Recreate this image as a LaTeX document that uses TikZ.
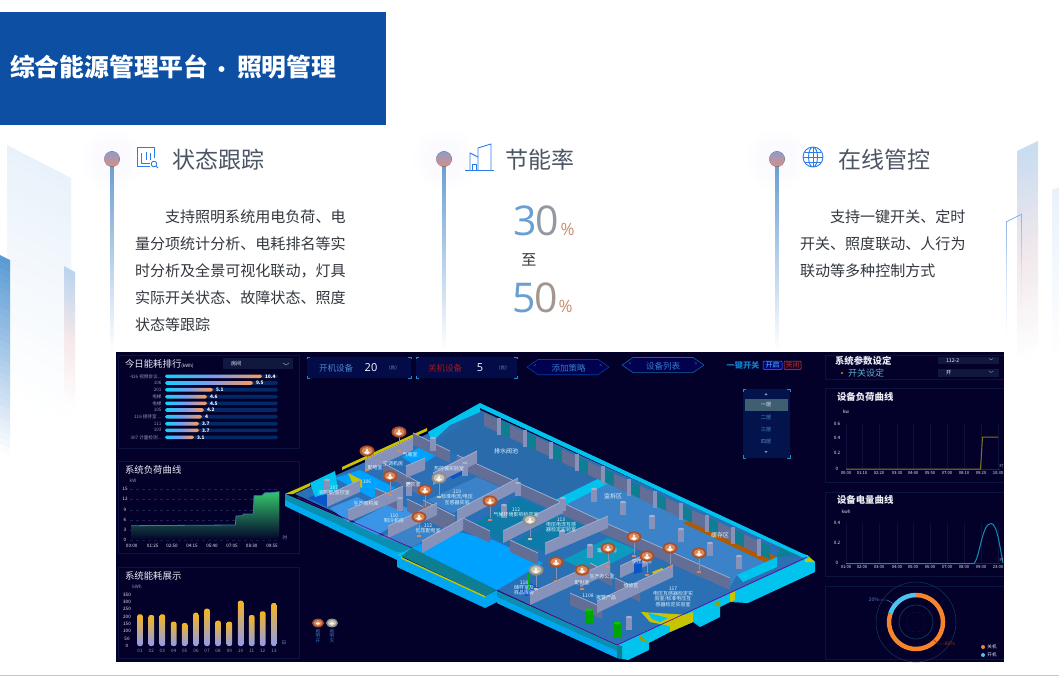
\documentclass[tikz,border=0pt]{standalone}
\usepackage{fontspec}
\setmainfont{Noto Sans CJK SC}
\newfontfamily\numfont{Open Sans}
\newcommand{\fs}[1]{\fontsize{#1}{#1}\selectfont}
\newcommand{\dotdot}{...}
\newcommand{\tower}[7]{%
  \definecolor{ctop}{HTML}{#6}
  \definecolor{cmid}{HTML}{#7}
  \pgfmathsetmacro{\stp}{(#5-#2)/30}
  \foreach \k in {0,...,29} {
    \pgfmathtruncatemacro{\pa}{\k<15 ? 100-\k*100/15 : 100-(\k-15)*100/15}
    \ifnum\k<15 \colorlet{slice}{ctop!\pa!cmid}\else \colorlet{slice}{cmid!\pa!white}\fi
    \fill[slice] (#1,#2+\k*\stp) -- (#3,#4+\k*\stp) -- (#3,#4+\k*\stp+\stp+.4) -- (#1,#2+\k*\stp+\stp+.4) -- cycle;
  }
}
\definecolor{panelbg}{HTML}{03012A}
\definecolor{panelline}{HTML}{0B1440}
\definecolor{gridline}{HTML}{1C2550}
\definecolor{brandblue}{HTML}{0C4FA3}
\definecolor{iconblue}{HTML}{2B7DE9}
\definecolor{headgray}{HTML}{4B5563}
\definecolor{bodygray}{HTML}{33383F}
\definecolor{numblue}{HTML}{6A9FD2}
\definecolor{numbrown}{HTML}{A3958F}
\definecolor{numorange}{HTML}{C98F70}
\definecolor{tick}{HTML}{1C8FC4}
\definecolor{axistxt}{HTML}{8C98B8}
\definecolor{dropfill}{HTML}{11183F}
\definecolor{slabcyan}{HTML}{00C4EE}
\definecolor{slabteal}{HTML}{0A8FB0}
\definecolor{wallface}{HTML}{8692BA}
\definecolor{walldark}{HTML}{626E96}
\definecolor{walltop}{HTML}{A5B0D0}
\definecolor{wallteal}{HTML}{0E7F92}
\definecolor{lemon}{HTML}{C8C400}
\definecolor{floorbase}{HTML}{2B70B5}
\definecolor{floordrain}{HTML}{2A6CAB}
\definecolor{floorhall}{HTML}{3B82C8}
\definecolor{floorlane}{HTML}{00A2FF}
\definecolor{floorlab}{HTML}{0D7AA8}
\definecolor{floorlit}{HTML}{3A95E6}
\definecolor{floordeep}{HTML}{0A55C8}
\definecolor{lamponA}{HTML}{A8502A}
\definecolor{lamponB}{HTML}{D8885A}
\definecolor{lampoffA}{HTML}{8F8F88}
\definecolor{lampoffB}{HTML}{C4C4BC}
\definecolor{bartop}{HTML}{F5B51E}
\definecolor{barlow}{HTML}{8F9BF0}
\definecolor{curveblue}{HTML}{0E8FB8}
\definecolor{ringdim}{HTML}{123A5A}
\definecolor{ringorange}{HTML}{F5842B}
\definecolor{ringcyan}{HTML}{4FC3EE}
\definecolor{rankcyan}{HTML}{10D0FF}
\definecolor{rankmid}{HTML}{7C9CF0}
\definecolor{rankend}{HTML}{FF9A55}
\definecolor{ballup}{HTML}{8F9CC8}
\definecolor{balldown}{HTML}{D98E85}
\tikzset{
  plan/.style={x=1pt,y=-1pt,line join=round},
  tx/.style={inner sep=0pt,outer sep=0pt},
  axlbl/.style={tx,font=\fs{4.6},text=axistxt},
  ttl/.style={tx,anchor=west,font=\fs{9.4},text=white!82!axistxt},
  roomlbl/.style={tx,font=\fs{5},text=white!88!cyan,align=center},
  head/.style={tx,anchor=west,font=\fs{23},text=headgray},
  para/.style={tx,anchor=west,font=\fs{15.05},text=bodygray},
  numlbl/.style={tx,font=\numfont\fs{41}},
  pct/.style={tx,font=\numfont\fs{17},text=numorange},
  pnl/.style={draw=panelline,line width=.5pt},
  sel/.style={tx,font=\fs{5.2},text=white!85!axistxt},
  bigttl/.style={tx,font=\fs{24.8}\bfseries,text=white}
}
\begin{document}
\begin{tikzpicture}[plan]
  \useasboundingbox (0,0) rectangle (1059,677);
  \fill[white] (0,0) rectangle (1059,677);
  \tower{7}{145}{71}{178}{395}{E9F2FB}{F5F9FD}
  \tower{0}{255}{10}{260}{450}{5B9BD5}{A9CBE9}
  \tower{64}{266}{75}{272}{405}{BCD4EE}{F6E9EA}
  \tower{1017}{151}{1038}{141}{362}{C9DCF0}{F1E8EC}
  \tower{1052}{190}{1059}{187}{362}{E9F1FA}{F5F9FD}
  \tower{1006}{222}{1007.2}{222}{340}{8FB5E8}{DCE8F8}
  \tower{1021}{214}{1022.2}{214}{340}{8FB5E8}{DCE8F8}
  \draw[iconblue!60,line width=.8pt] (1006,222) -- (1022,214);
  \draw[gray!45] (0,675.5) -- (1059,675.5);

  \fill[brandblue] (0,12) rectangle (386,125);
  \node[bigttl,anchor=west] (pagetitle) at (10,67) {综合能源管理平台};
  \node[bigttl,font=\fs{21}\bfseries] (titledot) at (222,72) {·};
  \node[bigttl,anchor=west] (pagesub) at (237,67) {照明管理};

  \foreach \x in {112,444,777} {
    \shade[inner color=blue!3,outer color=white] (\x,159) circle[radius=34pt];
    \fill[top color=numblue,bottom color=white] (\x-1.5,165) rectangle (\x+1.5,350);
    \fill[top color=ballup,bottom color=balldown] (\x,159) circle[radius=7.7pt];
  }
  \node[head] (headstate) at (172,160) {状态跟踪};
  \node[head] (headsave) at (505,160) {节能率};
  \node[head] (headctrl) at (838,160) {在线管控};

  \begin{scope}[iconblue,line width=.9pt]
    \draw (154,158) -- (154,147) -- (137,147) -- (137,166) -- (150,166);
    \draw (141,153) -- (141,163) -- (150,163) (146,152) -- (146,160) (150,153) -- (150,160);
    \draw (154,164) circle[radius=2.8pt] (156,166) -- (158,168);
    \draw (465,170.5) -- (494,170.5);
    \draw (478,170) -- (478,148) -- (491,144) -- (491,170);
    \draw (470,170) -- (470,153) -- (478,157);
    \draw (472,170) -- (472,164) -- (476,164) -- (476,170);
    \draw (813,157) circle[radius=10pt] (813,157) ellipse[x radius=4.5pt,y radius=10pt];
    \draw (803,157) -- (823,157) (805,152) -- (821,152) (805,162) -- (821,162) (813,147) -- (813,167);
  \end{scope}

  \node[para] (s1) at (165,217) {支持照明系统用电负荷、电};
  \node[para] (s2) at (135,244) {量分项统计分析、电耗排名等实};
  \node[para] (s3) at (135,271) {时分析及全景可视化联动，灯具};
  \node[para] (s4) at (135,298) {实际开关状态、故障状态、照度};
  \node[para] (s5) at (135,325) {状态等跟踪};
  \node[para] (c1) at (830,217) {支持一键开关、定时};
  \node[para] (c2) at (800,244) {开关、照度联动、人行为};
  \node[para] (c3) at (800,271) {联动等多种控制方式};

  \node[numlbl,text=numblue] (d3) at (525,221) {3};
  \node[numlbl,text=numbrown!70!numblue] (d0) at (547,221) {0};
  \node[pct] (pa) at (567.5,229) {\%};
  \node[para,anchor=center] (mid) at (529,260) {至};
  \node[numlbl,text=numblue] (d5) at (524,298) {5};
  \node[numlbl,text=numbrown] (d00) at (546,298) {0};
  \node[pct] (pb) at (565.5,306) {\%};

  \fill[panelbg] (116,352) rectangle (1004,662);

  % left panels
  \draw[pnl] (118,355) rectangle (299,448) (118,461) rectangle (299,553) (118,567) rectangle (299,658);
  \node[ttl] (tl1) at (125,364) {今日能耗排行\fs{4.5}(kWh)};
  \fill[dropfill] (223,358) rectangle (293,369);
  \node[sel,anchor=west] (droproom) at (231,364) {房间};
  \draw[axistxt,line width=.5pt] (283,363) -- (286,365) -- (289,363);
  \foreach \y/\e/\n/\v in {376.3/262/426 视频会议{\dotdot}/10.4,383/253/106/9.5,389.7/213/201/5.1,396.7/207/电梯/4.6,403.3/207/电梯/4.5,410/204/105/4.2,416.7/202/116 接待室 {\dotdot}/4,423.7/199/111/3.7,430.3/199/103/3.7,437.3/194/307 计量检测{\dotdot}/3.1} {
    \fill[blue!45!cyan!28!panelbg,rounded corners=1.7pt] (165,\y-1.8) rectangle (278,\y+1.8);
    \fill[left color=rankcyan,right color=rankend,middle color=rankmid,rounded corners=1.7pt] (165,\y-1.8) rectangle (\e,\y+1.8);
    \node[axlbl,anchor=east] (rankname\e) at (161.5,\y) {\n};
    \node[tx,anchor=west,font=\fs{4.8}\bfseries,text=white] (rankval\e) at (\e+3,\y) {\v};
  }

  \node[ttl] (tl2) at (125,470) {系统负荷曲线};
  \node[axlbl] (unitkw) at (133,481) {kW};
  \foreach \y/\n in {489.3/15,499.3/12,509.7/9,519.7/6,529.7/3,540/0} {
    \node[axlbl,text=white!80!axistxt] (loady\n) at (125,\y) {\n};
    \draw[gridline,dashed,line width=.3pt] (130,\y) -- (280,\y);
  }
  \foreach \x/\n in {131.7/00:00,152.7/01:25,172/02:50,192/04:15,212/05:40,232/07:05,251.7/08:30,272/09:55}
    \node[axlbl,text=white!80!axistxt] (loadx\x) at (\x,545.5) {\n};
  \node[axlbl] (unithour) at (285,537.5) {时};
  \fill[top color=green!45!teal!80!white,bottom color=panelbg] (131,525.7) -- (235.3,525) -- (236,516) -- (242.7,515.7) -- (243.3,514) -- (253.3,514) -- (254,495.7) -- (261.7,495.7) -- (265,492.7) -- (271,492.7) -- (279.3,491.7) -- (279.3,540) -- (131,540) -- cycle;
  \draw[cyan!45!blue!85,line width=.8pt] (131,525.7) -- (235.3,525) -- (236,516) -- (242.7,515.7) -- (243.3,514) -- (253.3,514) -- (254,495.7) -- (261.7,495.7) -- (265,492.7) -- (271,492.7) -- (279.3,491.7);

  \node[ttl] (tl3) at (125,576) {系统能耗展示};
  \node[axlbl] (unitkwh) at (137,587) {kWh};
  \foreach \y/\n in {594.7/350,602/300,609.3/250,616.7/200,624/150,631.3/100,638.7/50,646/0}
    \node[axlbl,text=white!80!axistxt] (usey\n) at (127,\y) {\n};
  \foreach \x/\t/\n in {140/614.3/01,151.3/615/02,162.3/614.3/03,173.7/621.7/04,184.7/623/05,196/612.7/06,207/608.7/07,218/620.7/08,229.3/621.7/09,240.7/600.7/10,251.7/615/11,262.7/611.3/12,274/603/13} {
    \fill[top color=bartop,bottom color=barlow,rounded corners=2pt] (\x-2.8,\t) rectangle (\x+2.8,646);
    \node[axlbl] (usex\n) at (\x,650.5) {\n};
  }
  \node[axlbl] (unitday) at (284,643) {日};

  % top bar
  \foreach \xa/\xb in {307/411,416/517} {
    \fill[blue!70!cyan!14!panelbg] (\xa,357) rectangle (\xb,378);
    \draw[tick,line width=.6pt] (\xa,359) -- (\xa,357) -- (\xa+3,357) (\xb-3,357) -- (\xb,357) -- (\xb,359) (\xa,376) -- (\xa,378) -- (\xa+3,378) (\xb-3,378) -- (\xb,378) -- (\xb,376);
  }
  \node[tx,font=\fs{8.5},text=cyan!50!blue!75] (onname) at (336,368) {开机设备};
  \node[tx,font=\numfont\fs{11},text=white] (onval) at (371,367.5) {20};
  \node[axlbl] (onunit) at (393,368) {(台)};
  \node[tx,font=\fs{8.5},text=red!60!black!90] (offname) at (445,368) {关机设备};
  \node[tx,font=\numfont\fs{11},text=white] (offval) at (480,367.5) {5};
  \node[axlbl] (offunit) at (503,368) {(台)};
  \draw[blue!55!cyan!55!panelbg,fill=blue!30!panelbg,fill opacity=.6,line width=.6pt] (527,367) -- (538,359.5) -- (598,359.5) -- (609,367) -- (598,374.7) -- (538,374.7) -- cycle;
  \draw[tick!70!panelbg,fill=blue!18!panelbg,line width=.6pt] (622,365) -- (633,357.5) -- (693,357.5) -- (704,365) -- (693,372.6) -- (633,372.6) -- cycle;
  \node[tx,font=\fs{8.5},text=cyan!50!blue!85] (addplan) at (568.5,368) {添加策略};
  \node[tx,font=\fs{8.5},text=cyan!50!blue!85] (devlist) at (663,366) {设备列表};
  \node[axlbl,text=tick] (a1) at (535,366.5) {<};
  \node[axlbl,text=tick] (a2) at (601,366.5) {>};
  \node[axlbl,text=tick] (a3) at (630,364.5) {<};
  \node[axlbl,text=tick] (a4) at (696,364.5) {>};
  \node[tx,font=\fs{8.2}\bfseries,text=cyan!65!blue] (onekey) at (743,365) {一键开关};
  \draw[blue!80!cyan!70,fill=blue!40!panelbg,line width=.5pt,rounded corners=1pt] (763,361) rectangle (782,369.5);
  \draw[red!60!black!70,fill=red!12!panelbg,line width=.5pt,rounded corners=1pt] (784,361) rectangle (801,369.5);
  \node[tx,font=\fs{7},text=cyan!70!white] (btnon) at (772.5,365) {开启};
  \node[tx,font=\fs{7},text=red!55!black!80] (btnoff) at (792.5,365) {关闭};

  % floor selector
  \fill[blue!55!cyan!16!panelbg] (743,389) rectangle (790,458);
  \draw[tick,line width=.6pt] (743,392) -- (743,389) -- (746,389) (787,389) -- (790,389) -- (790,392) (743,455) -- (743,458) -- (746,458) (787,458) -- (790,458) -- (790,455);
  \fill[blue!40!cyan!28!gray!70!black] (745,399) rectangle (788,411);
  \fill[axistxt] (766,393) -- (767.5,395) -- (764.5,395) -- cycle (766,453) -- (767.5,451) -- (764.5,451) -- cycle;
  \node[sel] (fl1) at (766,405) {一层};
  \node[sel,text=cyan!50!blue!70!white] (fl2) at (766,417.5) {二层};
  \node[sel,text=cyan!50!blue!70!white] (fl3) at (766,430) {三层};
  \node[sel,text=cyan!50!blue!70!white] (fl4) at (766,442) {四层};

  % right panels
  \draw[pnl] (1004,355) -- (825,355) -- (825,379) -- (1004,379) (1004,388) -- (825,388) -- (825,482) -- (1004,482) (1004,492) -- (825,492) -- (825,576) -- (1004,576) (1004,586) -- (825,586) -- (825,659) -- (1004,659);
  \node[ttl,font=\fs{9.4}\bfseries] (tr1) at (835,361) {系统参数设定};
  \fill[orange] (842,373) circle[radius=1.1pt];
  \node[ttl,font=\fs{9},text=cyan!45!teal!75!white] (tr1b) at (848,373) {开关设定};
  \foreach \y/\n in {360.5/112-2,373/开} {
    \fill[dropfill] (938,\y-3.8) rectangle (999,\y+3.8);
    \node[sel,anchor=west] (setval\y) at (946,\y) {\n};
    \draw[axistxt,line width=.4pt] (989,\y-2) -- (991,\y-.5) -- (993,\y-2);
  }
  \node[ttl,font=\fs{9.4}\bfseries] (tr2) at (837,397) {设备负荷曲线};
  \node[axlbl,text=white!80!axistxt] (unitload) at (846,412) {kw};
  \node[ttl,font=\fs{9.4}\bfseries] (tr3) at (837,500) {设备电量曲线};
  \node[axlbl,text=white!80!axistxt] (unitenergy) at (846,512) {kwh};
  \foreach \y/\n in {424/0.6,438/0.4,453/0.2,469/0}
    \node[axlbl,text=white!80!axistxt] (ly\y) at (837,\y) {\n};
  \foreach \y/\n in {523/0.4,543/0.2,563/0}
    \node[axlbl,text=white!80!axistxt] (ey\y) at (837,\y) {\n};
  \foreach \x/\n/\m in {846/00:00/01:00,862/01:10/02:00,879/02:20/03:00,897/03:30/04:00,913/04:40/05:00,930/05:50/06:00,947/07:00/07:00,964/08:10/08:00,981/09:20/09:00,998/10:30/23:00} {
    \node[axlbl,text=white!80!axistxt,font=\fs{4.2}] (lx\x) at (\x,473) {\n};
    \node[axlbl,text=white!80!axistxt,font=\fs{4.2}] (ex\x) at (\x,567) {\m};
    \draw[gridline!45!panelbg,line width=.3pt] (\x,424) -- (\x,469) (\x,523) -- (\x,563);
  }
  \draw[gridline,line width=.4pt] (846,469) -- (1000,469) (846,563) -- (1000,563);
  \draw[olive!85!black,line width=1pt] (846,469) -- (980.5,469) -- (982.5,437) -- (998,437);
  \draw[curveblue,line width=1pt] (846,563.5) -- (974,563.5) .. controls (980,557) and (982,523) .. (991,523.5) .. controls (997,523) and (1000,548) .. (1003,563);
  \node[axlbl,font=\fs{4}] (hour1) at (1001.5,466) {时};
  \node[axlbl,font=\fs{4}] (hour2) at (1001.5,560) {时};

  \draw[ringdim,line width=.5pt] (916,622) circle[radius=40pt];
  \draw[ringdim,line width=.7pt] (916,622) circle[radius=17pt];
  \draw[ringdim,line width=.4pt,dotted] (916,622) circle[radius=10pt];
  \draw[ringorange,line width=4.5pt] (916,595) arc[start angle=90,delta angle=-288,radius=27pt];
  \draw[ringcyan,line width=4.5pt] (916,595) arc[start angle=90,delta angle=72,radius=27pt];
  \node[tx,font=\fs{5},text=cyan!40!blue!70] (p20) at (874,600) {20\%};
  \node[tx,font=\fs{5},text=red!50!orange!70!black] (p80) at (950,644) {80\%};
  \draw[cyan!40!blue!60,line width=.4pt] (p20.east) -- ++(8,0) -- (894,604);
  \draw[red!50!orange!70!black,line width=.4pt] (p80.west) -- ++(-7,0) -- (934,640);
  \fill[ringorange] (983,647) circle[radius=2pt];
  \fill[ringcyan] (983,655) circle[radius=2pt];
  \node[axlbl,text=white!80!axistxt] (legoff) at (992,647) {关机};
  \node[axlbl,text=white!80!axistxt] (legon) at (992,655) {开机};

  % slab
  \fill[slabcyan!88!blue] (285,494) -- (285,506) -- (397,560) -- (412,553) -- (412,548) -- cycle;
  \fill[slabteal] (285,494) -- (285,500) -- (397,552) -- (412,553) -- (412,548) -- cycle;
  \fill[slabcyan!85!blue] (397,555) -- (397,567) -- (485,608) -- (497,602) -- (497,590) -- (485,596) -- cycle;
  \fill[slabcyan] (397,555) -- (412,548) -- (412,552) -- (401,557) -- cycle;
  \fill[wallteal] (412,548) -- (497,590) -- (485,596) -- (401,556) -- cycle;
  \fill[slabteal] (497,591) -- (497,603) -- (617,658) -- (617,645) -- cycle;
  \fill[slabcyan!85!blue] (497,597) -- (497,603) -- (617,658) -- (617,651) -- cycle;
  \fill[slabcyan] (617,645) -- (617,658) -- (628,660) -- (649,650) -- (649,643) -- (670,632) -- (693,622) -- (700,627) -- (720,617) -- (720,607) -- (730,602) -- (748,603) -- (815,572) -- (815,562) -- (807,555) -- cycle;
  \fill[lemon] (670,632) -- (693,622) -- (693,612) -- (670,620) -- cycle (730,602) -- (735,600) -- (735,590) -- (730,592) -- cycle (805,562) -- (815,562) -- (807,555) -- (805,555) -- cycle;
  \fill[lemon!80!black] (640,640) -- (649,643) -- (640,635) -- cycle (714,604) -- (720,607) -- (720,600) -- cycle;
  \fill[wallteal] (617,658) -- (622,659) -- (622,646) -- (617,645) -- cycle;

  % floors
  \fill[floorbase] (295,494) -- (480,410) -- (807,558) -- (617,645) -- (497,590) -- (412,548) -- cycle;
  \fill[floorlane] (412,548) -- (450,530) -- (493,540) -- (543,563) -- (497,590) -- cycle;
  \fill[floordrain] (482,411) -- (610,473) -- (555,500) -- (457,455) -- (433,443) -- cycle;
  \fill[floorhall] (563,505) -- (611,482) -- (777,557) -- (737,575) -- (730,587) -- cycle;
  \fill[slabcyan] (555,500) -- (610,473) -- (611,482) -- (565,505) -- cycle;
  \fill[orange!70!black] (683,523) -- (695,519) -- (777,557) -- (765,562) -- cycle;
  \fill[wallteal] (777,557) -- (780,547) -- (807,555) -- cycle;
  \fill[slabcyan] (737,575) -- (777,557) -- (777,567) -- (743,582) -- cycle;
  \fill[floorlab] (472,525) -- (518,497) -- (562,517) -- (503,543) -- cycle;
  \fill[floorlab] (513,543) -- (563,517) -- (593,528) -- (547,552) -- cycle;
  \fill[floorlab!75!cyan] (563,560) -- (608,538) -- (637,550) -- (593,573) -- cycle;
  \fill[floorhall] (427,500) -- (477,477) -- (502,488) -- (453,513) -- cycle;
  \fill[floordeep] (308,498) -- (333,487) -- (352,495) -- (327,507) -- cycle;
  \fill[floorlit] (330,508) -- (357,497) -- (377,507) -- (348,522) -- cycle;
  \fill[floorlit] (352,523) -- (393,502) -- (417,512) -- (377,535) -- cycle;
  \fill[floorhall] (380,537) -- (413,523) -- (437,532) -- (413,547) -- cycle;
  \fill[floorlane] (402,457) -- (420,447) -- (437,455) -- (418,467) -- cycle;
  \fill[floordeep] (443,474) -- (457,467) -- (468,472) -- (453,479) -- cycle;
  \fill[floordeep] (515,590) -- (530,583) -- (540,588) -- (527,596) -- cycle;
  \fill[floorlane] (335,478) -- (360,470) -- (395,488) -- (372,498) -- cycle;
  \fill[slabcyan] (428,432) -- (480,403) -- (480,412) -- (450,425) -- (432,442) -- cycle;
  \fill[slabcyan] (310,483) -- (335,471) -- (338,490) -- (315,497) -- cycle;

  % yellow edges
  \fill[lemon] (342,467) -- (427,428) -- (427,431) -- (342,470) -- cycle;
  \fill[lemon] (285,494) -- (310,483) -- (310,486) -- (293,494) -- cycle;
  \fill[lemon] (348,473) -- (362,480) -- (362,488) -- (352,482) -- cycle;
  \fill[lemon] (422,442) -- (438,449) -- (438,455) -- (422,448) -- cycle;
  \fill[lemon] (401,557) -- (485,596) -- (485,597.5) -- (401,558.5) -- cycle;
  \fill[lemon] (568,579) -- (578,574) -- (582,578) -- (573,582) -- cycle (652,572) -- (662,568) -- (668,573) -- (656,577) -- cycle (632,588) -- (640,585) -- (641,590) -- (634,592) -- cycle;
  \fill[lemon] (641,612) -- (690,615) -- (670,626) -- (650,622) -- cycle;
  \fill[slabcyan] (648,613) -- (668,618) -- (660,622) -- (652,619) -- cycle;

  % back wall
  \fill[slabcyan] (480,403) -- (810,557) -- (806,559) -- (480,408) -- cycle;
  \foreach \x in {484,510,536,562,588,614,640,666,692,718,744} {
    \fill[walldark] (\x,413+\x*.4667-226) -- (\x+15,413+\x*.4667-219) -- (\x+15,413+\x*.4667-206) -- (\x,413+\x*.4667-213) -- cycle;
    \fill[wallteal] (\x+15,413+\x*.4667-219) -- (\x+26,413+\x*.4667-214) -- (\x+26,413+\x*.4667-201) -- (\x+15,413+\x*.4667-206) -- cycle;
    \fill[wallface] (\x+13,413+\x*.4667-221) rectangle (\x+17,413+\x*.4667-204);
  }

  % walls
  \foreach \xa/\ya/\xb/\yb in {413/445/450/463,383/475/420/495,457/467/563/515,375/500/403/512,407/511/447/530,423/512/455/528,463/530/490/543,510/552/538/565,563/515/608/536,608/536/660/559,660/559/730/590,570/605/602/619,615/590/640/602,590/575/612/586} {
    \fill[walldark] (\xa,\ya) -- (\xb,\yb) -- (\xb,\yb-12) -- (\xa,\ya-12) -- cycle;
    \draw[walltop,line width=.7pt] (\xa,\ya-12) -- (\xb,\yb-12);
  }
  \foreach \xa/\ya/\xb/\yb in {365/472/413/450,327/507/360/492,433/485/477/463,348/522/403/498,388/538/437/515,457/522/518/490,422/553/463/530,503/543/563/513,545/555/608/528,530/605/580/582,597/613/673/577,580/587/610/573,620/578/648/565,406/478/425/470} {
    \fill[wallface] (\xa,\ya) -- (\xb,\yb) -- (\xb,\yb-12) -- (\xa,\ya-12) -- cycle;
    \draw[walltop,line width=.7pt] (\xa,\ya-12) -- (\xb,\yb-12);
  }
  \foreach \x/\y in {433/445,465/470,327/487,594/496,623/509,652/523,681/536,710/550,739/563,562/538,629/624,590/552,504/512,409/490,518/490,563/505,400/505} {
    \fill[wallface] (\x-3,\y-7) rectangle (\x+3,\y+6);
    \fill[walltop] (\x,\y-7) ellipse[x radius=3pt,y radius=1.2pt];
  }
  \draw[violet!80!blue,line width=.6pt] (297,497) -- (412,548) (497,590) -- (617,645) -- (807,557);
  \foreach \x/\y in {589/617,617/630} {
    \fill[green!65!black] (\x-3.5,\y-7) rectangle (\x+3.5,\y+7);
    \fill[green!80!black] (\x,\y-7) ellipse[x radius=3.5pt,y radius=1.5pt];
  }
  \fill[green!70!black] (527,574) rectangle (529.5,590);
  \fill[floordeep] (634,563) -- (642,560) -- (642,572) -- (634,574) -- cycle;

  % room names
  \node[roomlbl,font=\fs{6}] (rdrain) at (506,451) {排水阀池};
  \node[roomlbl,font=\fs{6}] (rdis) at (613,496) {监拆区};
  \node[roomlbl,font=\fs{6}] (rbuf) at (720,535) {缓存区};
  \node[roomlbl] (r117) at (673,597) {117\\电压互感器检定实\\验室/标准电压互\\感器检定实验室};
  \node[roomlbl] (r113) at (561,525) {113\\电压电流互感\\器检定实验室};
  \node[roomlbl] (r112) at (516,512) {112\\气候环境影响检定室};
  \node[roomlbl] (r119) at (457,497) {119\\标准电流/电压\\互感器实验};
  \node[roomlbl] (r110) at (394,518) {110\\制冷机房};
  \node[roomlbl] (r111) at (428,528) {112\\低压配电室};
  \node[roomlbl] (r105) at (366,504) {生产资料库};
  \node[roomlbl] (r107) at (334,491) {107\\消防室/监控室};
  \node[roomlbl] (r106) at (367,482) {106};
  \node[roomlbl] (rgas) at (410,455) {气瓶室};
  \node[roomlbl] (rair) at (393,464) {空调机房};
  \node[roomlbl] (rdist) at (375,468) {配电室};
  \node[roomlbl] (rdress) at (413,485) {更衣室};
  \node[roomlbl] (rheat) at (449,469) {热控偏实验室};
  \node[roomlbl] (r118) at (524,588) {118\\储样室及\\样品库房};
  \node[roomlbl] (rpd) at (582,583) {配电室};
  \node[roomlbl] (r108) at (588,596) {1108};
  \node[roomlbl] (ralarm) at (606,598) {报警产品};
  \node[roomlbl] (roffice) at (602,577) {生产办公室};
  \node[roomlbl] (rfix) at (631,586) {维修区};
  \node[roomlbl] (rleak) at (607,551) {漏点机房};
  \node[roomlbl] (rcomp) at (642,562) {空压机房};

  % lamps
  \foreach \x/\y/\c in {399/432/on,367/451/on,390/476/on,425/490/on,419/517/on,490/501/on,556/562/on,582/570/on,608/548/on,634/537/on,647/556/on,670/548/on,699/553/on,439/478/off,530/520/off,536/570/off} {
    \draw[wallface,line width=.3pt] (\x,\y) -- (\x,\y+17);
    \fill[lamp\c B] (\x,\y+19) ellipse[x radius=2.4pt,y radius=1.1pt];
    \fill[lamp\c A] (\x,\y) ellipse[x radius=7.5pt,y radius=5.6pt];
    \fill[lamp\c B] (\x,\y) ellipse[x radius=5.5pt,y radius=4pt];
    \fill[white!92!orange] (\x,\y+1.5) ellipse[x radius=2.8pt,y radius=1.4pt];
    \fill[white!92!orange] (\x,\y-1) circle[radius=1.3pt];
  }
  \foreach \x/\c/\n in {318/on/开,332/off/灭} {
    \fill[lamp\c A] (\x,623) ellipse[x radius=6pt,y radius=4.4pt];
    \fill[lamp\c B] (\x,623) ellipse[x radius=4.2pt,y radius=3pt];
    \fill[white!92!orange] (\x,623.5) ellipse[x radius=2pt,y radius=1.2pt];
    \node[tx,font=\fs{4.6},text=cyan!45!blue!85,align=center] (leg\x) at (\x,636) {照\\明\\\n};
  }
\end{tikzpicture}
\end{document}
